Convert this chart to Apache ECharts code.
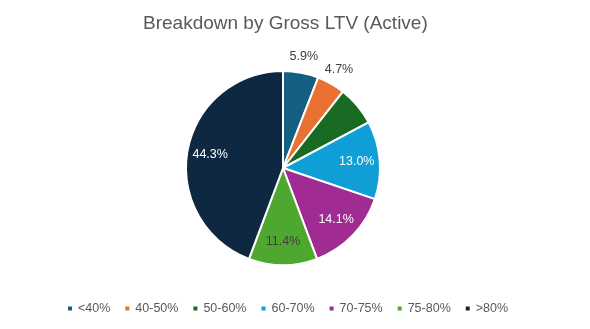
<!DOCTYPE html>
<html><head><meta charset="utf-8">
<script src="https://cdn.jsdelivr.net/npm/echarts@6/dist/echarts.min.js"></script>
<style>html,body{margin:0;padding:0;background:#fff}#c{width:590px;height:329px}</style>
</head><body><div id="c"></div>
<script>
const categories = ['<40%', '40-50%', '50-60%', '60-70%', '70-75%', '75-80%', '>80%'];
const values = [5.9, 4.7, 6.6, 13.0, 14.1, 11.4, 44.3];
const colors = ['#156082', '#E97132', '#196B24', '#0F9ED5', '#A02B93', '#4EA72E', '#0E2841'];
// label placement per slice: 'in' inside, 'out' outside, '' none
const labelPlace = ['out', 'out', '', 'in', 'in', 'in', 'in'];
const labelColors = ['#404040', '#404040', '#404040', '#ffffff', '#ffffff', '#404040', '#ffffff'];

const FONT = 'Liberation Sans';
const center = [283, 168];
const R = 97;

const visibleData = categories.map((n, i) => ({ name: n, value: values[i], itemStyle: { color: colors[i] } }));
function labelData(kind) {
  return categories.map((n, i) => ({
    name: n, value: values[i],
    label: { show: labelPlace[i] === kind, color: labelColors[i] }
  }));
}
const chart = echarts.init(document.getElementById('c'));
chart.setOption({
  animation: false,
  title: { text: 'Breakdown by Gross LTV (Active)', left: 138, top: 9,
    textStyle: { fontFamily: FONT, fontSize: 19, fontWeight: 'normal', color: '#595959' } },
  legend: { data: categories, bottom: 9, left: 61, itemWidth: 6, itemHeight: 6, itemGap: 13, icon: 'rect',
    textStyle: { fontFamily: FONT, fontSize: 12.5, color: '#595959' } },
  series: [
    { type: 'pie', center: center, radius: [0, R], startAngle: 90, clockwise: true,
      itemStyle: { borderColor: '#fff', borderWidth: 2 },
      label: { show: false }, labelLine: { show: false }, emphasis: { disabled: true },
      data: visibleData },
    { type: 'pie', center: center, radius: [0, 142], startAngle: 90, clockwise: true, silent: true,
      itemStyle: { color: 'rgba(0,0,0,0)', borderWidth: 0 }, legendHoverLink: false,
      label: { position: 'inside', fontFamily: FONT, fontSize: 12.5, formatter: p => p.value.toFixed(1) + '%' },
      labelLine: { show: false }, emphasis: { disabled: true },
      data: labelData('in') },
    { type: 'pie', center: center, radius: [100, 120], startAngle: 90, clockwise: true, silent: true,
      itemStyle: { color: 'rgba(0,0,0,0)', borderWidth: 0 }, legendHoverLink: false,
      label: { position: 'inside', fontFamily: FONT, fontSize: 12.5, formatter: p => p.value.toFixed(1) + '%' },
      labelLine: { show: false }, emphasis: { disabled: true },
      data: labelData('out') }
  ]
});
</script></body></html>
